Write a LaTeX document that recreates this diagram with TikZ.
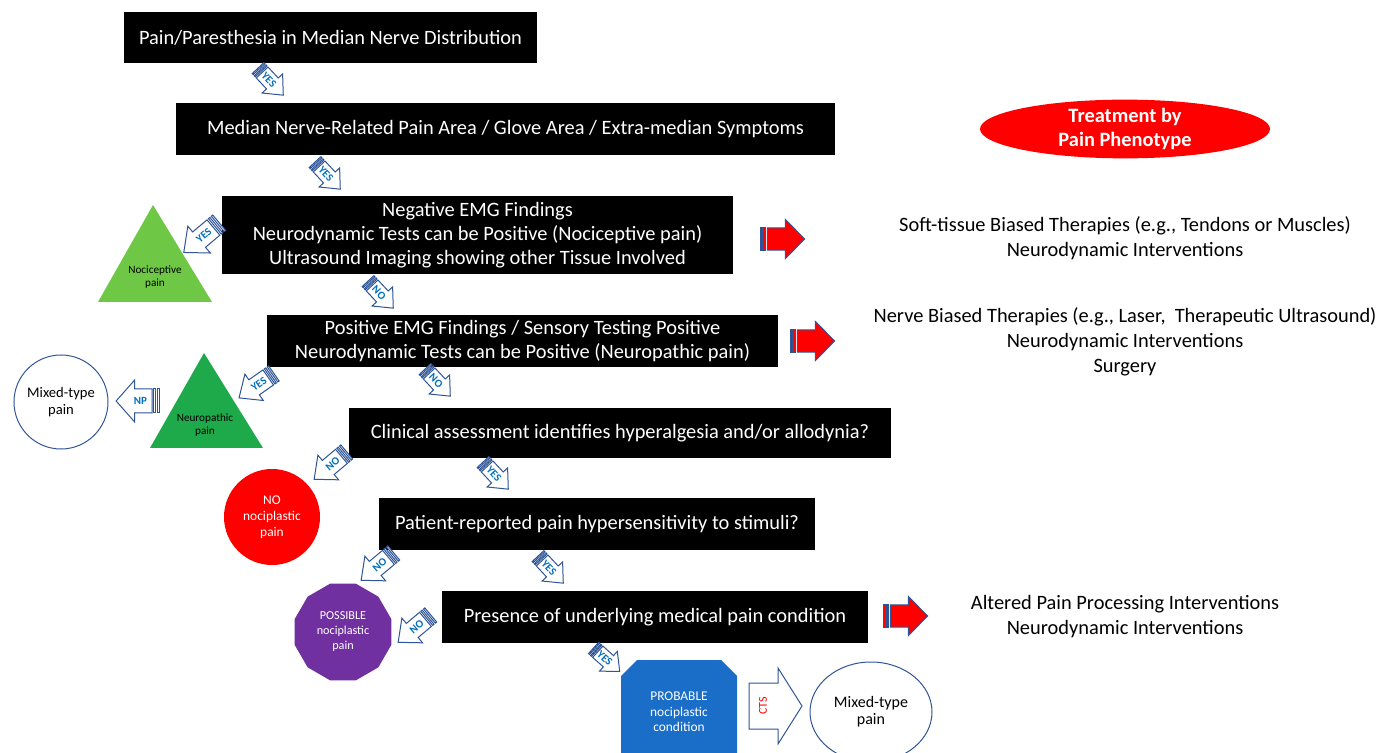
\documentclass[tikz,border=0pt]{standalone}
\usepackage{fontspec}
\setmainfont{Carlito}
\usetikzlibrary{shapes.geometric}

\definecolor{arrowblue}{RGB}{47,85,151}
\definecolor{labelblue}{RGB}{0,112,192}
\definecolor{nocigreen}{RGB}{110,200,70}
\definecolor{neurogreen}{RGB}{30,170,75}
\definecolor{possiblepurple}{RGB}{112,48,160}
\definecolor{probableblue}{RGB}{27,110,200}

\tikzset{
  blackbox/.style={fill=black, text=white, align=center, inner sep=0pt,
    font=\fontsize{10.2}{12}\selectfont},
  treattext/.style={align=center, font=\fontsize{10.2}{12.5}\selectfont},
  smalltext/.style={align=center, font=\fontsize{5.6}{6.2}\selectfont},
  arrowline/.style={draw=arrowblue, line width=0.5pt, line join=miter},
  arrowlabel/.style={text=labelblue, inner sep=0pt, font=\bfseries\fontsize{5.5}{6}\selectfont}
}

% striped block arrow: name, centre, angle, transform, fill, label angle, label
\newcommand{\stripedarrow}[7]{%
  \begin{scope}[shift={#2}, rotate=#3, #4]
    \coordinate (#1) at (0,0);
    \draw[arrowline, fill=#5] (-19,-8) rectangle (-17.5,8);
    \draw[arrowline, fill=#5] (-16,-8) rectangle (-14.5,8);
    \draw[arrowline, fill=#5] (-13,-8) -- (2,-8) -- (2,-14) -- (18,0)
      -- (2,14) -- (2,8) -- (-13,8) -- cycle;
    \node[arrowlabel, rotate=#6] (#1-label) at (-3,0) {#7};
  \end{scope}}

\begin{document}
\begin{tikzpicture}[x=0.5pt, y=-0.5pt]
  \useasboundingbox (0,0) rectangle (1381,753);

  % decision boxes
  \node[blackbox, minimum width=206.5pt, minimum height=25.5pt] (pain) at (330.5,37.5)
    {Pain/Paresthesia in Median Nerve Distribution};
  \node[blackbox, minimum width=329.5pt, minimum height=26pt] (area) at (505.5,129)
    {Median Nerve-Related Pain Area / Glove Area / Extra-median Symptoms};
  \node[blackbox, minimum width=255.5pt, minimum height=39pt] (negemg) at (477.5,235)
    {Negative EMG Findings\\Neurodynamic Tests can be Positive (Nociceptive pain)\\Ultrasound Imaging showing other Tissue Involved};
  \node[blackbox, minimum width=255.5pt, minimum height=26pt] (posemg) at (522.5,341)
    {Positive EMG Findings / Sensory Testing Positive\\Neurodynamic Tests can be Positive (Neuropathic pain)};
  \node[blackbox, minimum width=271pt, minimum height=25pt] (clinical) at (620,433)
    {Clinical assessment identifies hyperalgesia and/or allodynia?};
  \node[blackbox, minimum width=218pt, minimum height=26pt] (patient) at (597,524)
    {Patient-reported pain hypersensitivity to stimuli?};
  \node[blackbox, minimum width=213pt, minimum height=26pt] (presence) at (655,617)
    {Presence of underlying medical pain condition};

  % treatment column
  \node[ellipse, fill=red, text=white, inner sep=0pt, minimum width=145pt, minimum height=25pt,
    align=center, font=\bfseries\fontsize{10.2}{12}\selectfont] (treat) at (1125,129)
    {Treatment by\\Pain Phenotype};
  \node[treattext] (soft) at (1125,238)
    {Soft-tissue Biased Therapies (e.g., Tendons or Muscles)\\Neurodynamic Interventions};
  \node[treattext] (nerve) at (1125,342)
    {Nerve Biased Therapies (e.g., Laser,\ \ Therapeutic Ultrasound)\\Neurodynamic Interventions\\Surgery};
  \node[treattext] (altered) at (1125,617)
    {Altered Pain Processing Interventions\\Neurodynamic Interventions};

  % phenotypes
  \fill[nocigreen] (153,205) -- (212,302) -- (98,302) -- cycle;
  \node[smalltext] (noci) at (155,277) {Nociceptive\\pain};
  \fill[neurogreen] (204,353) -- (263,448) -- (150,448) -- cycle;
  \node[smalltext] (neuro) at (205,425) {Neuropathic\\pain};
  \node[circle, draw=arrowblue, line width=0.5pt, minimum size=47pt, inner sep=0pt, align=center,
    font=\fontsize{7.3}{8.5}\selectfont] (mixedA) at (61,402) {Mixed-type\\pain};
  \node[circle, fill=red, text=white, minimum size=48pt, inner sep=0pt, align=center,
    font=\fontsize{6.7}{8}\selectfont] (nonoci) at (272,517) {NO\\nociplastic\\pain};
  \node[regular polygon, regular polygon sides=12, fill=possiblepurple, text=white,
    minimum size=50pt, inner sep=0pt, align=center,
    font=\fontsize{6.1}{7.5}\selectfont] (possible) at (343,632) {POSSIBLE\\nociplastic\\pain};
  \fill[probableblue] (621,676) -- (637,660) -- (721,660) -- (737,676) -- (737,753) -- (621,753) -- cycle;
  \node[text=white, align=center, font=\fontsize{6.7}{7.8}\selectfont] (probable) at (679,712)
    {PROBABLE\\nociplastic\\condition};
  \node[ellipse, draw=arrowblue, line width=0.5pt, minimum width=61pt, minimum height=50pt,
    inner sep=0pt, align=center, font=\fontsize{8}{8.5}\selectfont] (mixedB) at (871,712)
    {Mixed-type\\pain};

  % CTS arrow
  \draw[arrowline, fill=white] (749,683) -- (778,683) -- (778,668) -- (802,706)
    -- (778,744) -- (778,729) -- (749,729) -- cycle;
  \node[text=red, rotate=90, inner sep=0pt, font=\fontsize{6}{6}\selectfont] (cts) at (763,706) {CTS};

  % YES / NO arrows
  \stripedarrow{yesA}{(271,82)}{-47}{scale=1}{white}{-47}{YES}
  \stripedarrow{yesB}{(328,176)}{-47}{scale=1}{white}{-47}{YES}
  \stripedarrow{yesC}{(201,238)}{-140}{scale=1.25}{white}{40}{YES}
  \stripedarrow{noA}{(381,295)}{-47}{scale=1}{white}{-47}{NO}
  \stripedarrow{yesD}{(256,386)}{-145}{scale=1.15}{white}{35}{YES}
  \stripedarrow{np}{(137,401)}{180}{xscale=1.16, yscale=1.5}{white}{0}{NP}
  \stripedarrow{noB}{(438,383)}{-47}{scale=1}{white}{-47}{NO}
  \stripedarrow{noC}{(330,466)}{-140}{scale=1.15}{white}{40}{NO}
  \stripedarrow{yesE}{(496,476)}{-47}{scale=1}{white}{-47}{YES}
  \stripedarrow{noD}{(377,567)}{-140}{scale=1.15}{white}{40}{NO}
  \stripedarrow{yesF}{(551,570)}{-47}{scale=1}{white}{-47}{YES}
  \stripedarrow{noE}{(414,629)}{-140}{scale=1.15}{white}{40}{NO}
  \stripedarrow{yesG}{(607,660)}{-42}{scale=0.95}{white}{-42}{YES}

  % red treatment arrows
  \stripedarrow{redA}{(783,239)}{0}{xscale=1.2, yscale=1.4}{red}{0}{}
  \stripedarrow{redB}{(813,341)}{0}{xscale=1.2, yscale=1.4}{red}{0}{}
  \stripedarrow{redC}{(906,616)}{0}{xscale=1.2, yscale=1.4}{red}{0}{}
\end{tikzpicture}
\end{document}
